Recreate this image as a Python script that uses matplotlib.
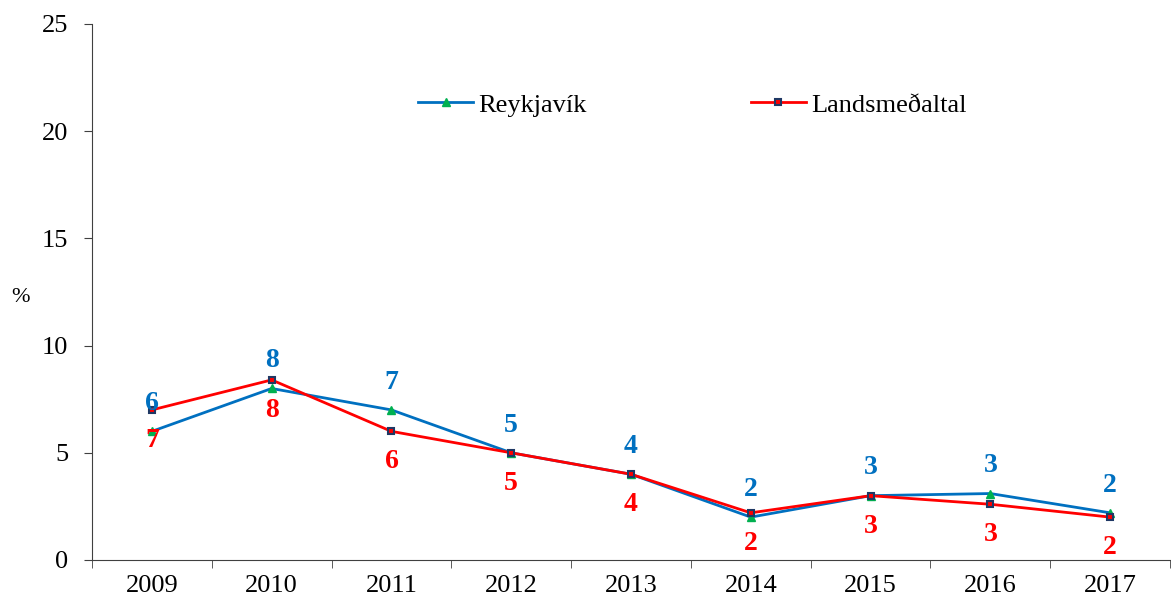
import numpy as np
import matplotlib
matplotlib.use("Agg")
import matplotlib.pyplot as plt

years = ["2009", "2010", "2011", "2012", "2013", "2014", "2015", "2016", "2017"]
reykjavik = [6.0, 8.0, 7.0, 5.0, 4.0, 2.0, 3.0, 3.1, 2.2]
landsmedaltal = [7.0, 8.4, 6.0, 5.0, 4.0, 2.2, 3.0, 2.6, 2.0]

plt.rcParams['font.family'] = ['Liberation Serif', 'DejaVu Serif']

blue = '#0070C0'
red = '#FF0000'

fig = plt.figure(figsize=(11.71, 6.03), dpi=100)
ax = fig.add_axes([92/1171, 43/603, 1078/1171, 536/603])

x = np.arange(len(years))
ax.plot(x, reykjavik, color=blue, lw=2, marker='^', ms=6,
        mfc='#00B050', mec='#00B050', label='Reykjavík')
ax.plot(x, landsmedaltal, color=red, lw=2, marker='s', ms=5,
        mfc=red, mec='#1F3864', mew=1.5, label='Landsmeðaltal')

for xi, v in zip(x, reykjavik):
    ax.annotate(f"{v:.0f}", (xi, v), xytext=(0, 20), textcoords='offset points',
                ha='center', va='center', color=blue, fontsize=20, fontweight='bold')
for xi, v in zip(x, landsmedaltal):
    ax.annotate(f"{v:.0f}", (xi, v), xytext=(0, -22), textcoords='offset points',
                ha='center', va='center', color=red, fontsize=20, fontweight='bold')

ax.set_xlim(-0.5, len(years) - 0.5)
ax.set_ylim(0, 25)
ax.set_yticks([0, 5, 10, 15, 20, 25])
ax.set_xticks(x)
ax.set_xticklabels(years)
ax.set_xticks(np.arange(len(years) + 1) - 0.5, minor=True)
ax.tick_params(axis='x', which='major', length=0, pad=11, labelsize=19)
ax.tick_params(axis='x', which='minor', length=6, color='#404040')
ax.tick_params(axis='y', length=6, color='#404040', labelsize=19, pad=11)

for s in ['top', 'right']:
    ax.spines[s].set_visible(False)
for s in ['left', 'bottom']:
    ax.spines[s].set_color('#404040')

fig.text(20/1171, 1 - 298/603, '%', ha='center', va='center', fontsize=16)

ax.legend(loc='center', bbox_to_anchor=(0.557, 0.849), ncol=2, frameon=False,
          fontsize=19, handlelength=2.1, handletextpad=0.2, columnspacing=6.2)

fig.savefig('out.png', dpi=100)
